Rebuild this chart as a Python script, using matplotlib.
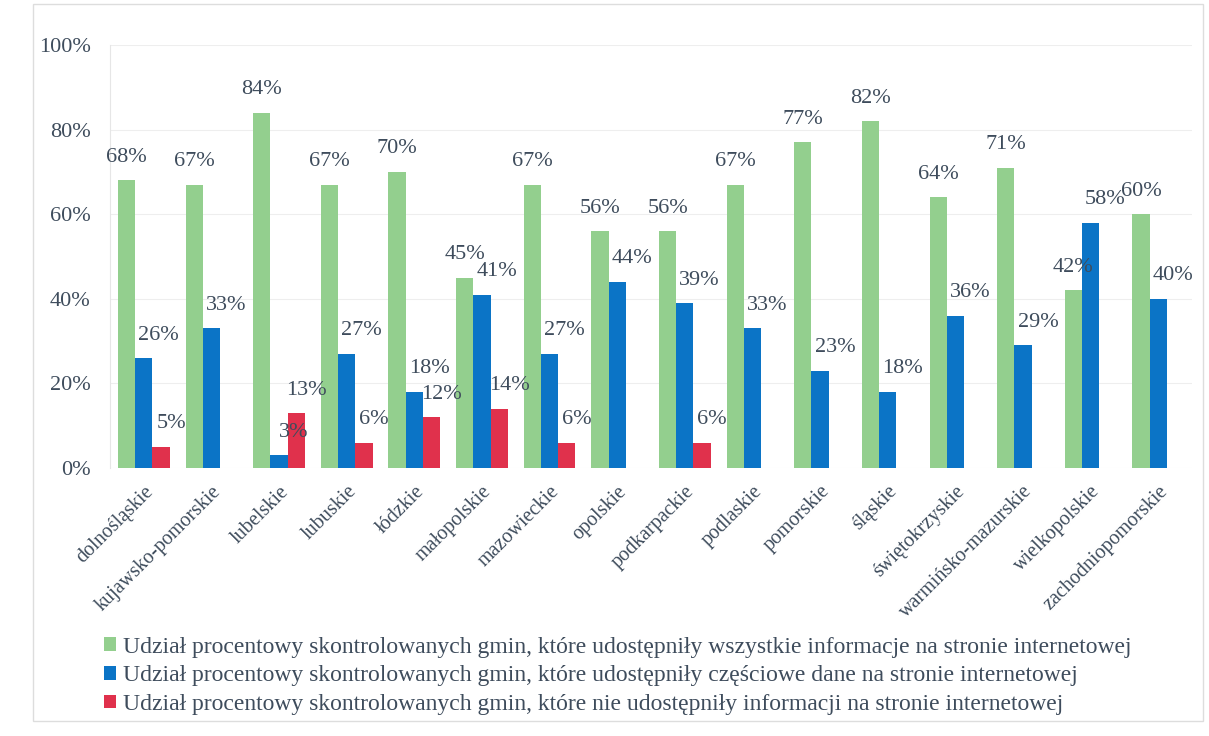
import matplotlib
matplotlib.use("Agg")
import matplotlib.pyplot as plt
import numpy as np
from matplotlib.patches import Rectangle

categories = ["dolnośląskie", "kujawsko-pomorskie", "lubelskie", "lubuskie", "łódzkie",
              "małopolskie", "mazowieckie", "opolskie", "podkarpackie", "podlaskie",
              "pomorskie", "śląskie", "świętokrzyskie", "warmińsko-mazurskie",
              "wielkopolskie", "zachodniopomorskie"]
all_info = [68, 67, 84, 67, 70, 45, 67, 56, 56, 67, 77, 82, 64, 71, 42, 60]
partial = [26, 33, 3, 27, 18, 41, 27, 44, 39, 33, 23, 18, 36, 29, 58, 40]
none_info = [5, None, 13, 6, 12, 14, 6, None, 6, None, None, None, None, None, None, None]

series_names = [
    "Udział procentowy skontrolowanych gmin, które udostępniły wszystkie informacje na stronie internetowej",
    "Udział procentowy skontrolowanych gmin, które udostępniły częściowe dane na stronie internetowej",
    "Udział procentowy skontrolowanych gmin, które nie udostępniły informacji na stronie internetowej",
]
colors = ["#93cf8e", "#0b74c6", "#e0314c"]
text_color = "#3e4c5c"

plt.rcParams['font.family'] = ['Liberation Serif', 'DejaVu Serif']

fig = plt.figure(figsize=(12.09, 7.36), dpi=100)
ax = fig.add_axes([0.091, 0.364, 0.895, 0.575])

x = np.arange(len(categories))
w = 0.255
label_dx = [0.0, 0.22, 0.15]
for i, vals in enumerate([all_info, partial, none_info]):
    xs = [xi + (i - 1) * w for xi, v in zip(x, vals) if v is not None]
    vs = [v for v in vals if v is not None]
    ax.bar(xs, vs, width=w, color=colors[i], label=series_names[i], zorder=2)
    for xx, vv in zip(xs, vs):
        ax.text(xx + label_dx[i], vv + 3.2, f"{vv}%", ha="center", va="bottom",
                fontsize=16, color=text_color, zorder=3)

ax.set_xlim(-0.5, len(categories) - 0.5)
ax.set_ylim(0, 100)
ax.set_yticks(np.arange(0, 101, 20))
ax.set_yticklabels([f"{t}%" for t in range(0, 101, 20)], fontsize=16, color=text_color)
ax.set_xticks(x)
ax.set_xticklabels(categories, rotation=45, ha="right", rotation_mode="anchor",
                   fontsize=14.5, color=text_color)
ax.tick_params(axis="both", length=0)
ax.tick_params(axis="y", pad=14)
ax.tick_params(axis="x", pad=10)
ax.yaxis.grid(True, color="#eeeeee", linewidth=0.8, zorder=0)
for s in ["top", "right", "bottom"]:
    ax.spines[s].set_visible(False)
ax.spines["left"].set_color("#e6e6e6")

leg = fig.legend(loc="upper left", bbox_to_anchor=(0.078, 0.148), frameon=False,
                 fontsize=17, handlelength=0.5, handleheight=0.5, handletextpad=0.3,
                 labelspacing=0.33, borderaxespad=0)
for t in leg.get_texts():
    t.set_color(text_color)

fig.patches.append(Rectangle((0.027, 0.02), 0.968, 0.975, transform=fig.transFigure,
                             fill=False, edgecolor="#dddddd", linewidth=1.0))

fig.savefig("out.png", dpi=100)
